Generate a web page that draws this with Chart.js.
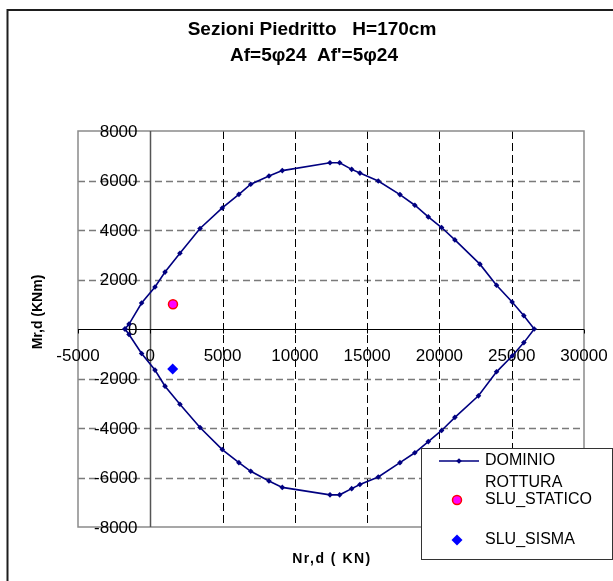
<!DOCTYPE html>
<html><head><meta charset="utf-8">
<script src="https://cdn.jsdelivr.net/npm/chart.js@4/dist/chart.umd.min.js"></script>
<style>html,body{margin:0;padding:0;background:#fff;overflow:hidden}#wrap{position:relative;width:613px;height:581px}canvas{display:block}</style>
</head><body><div id="wrap"><canvas id="c" width="613" height="581"></canvas></div>
<script>
const titleLines = ['Sezioni Piedritto   H=170cm', "Af=5φ24  Af'=5φ24"];
const xTitle = 'Nr,d ( KN)';
const yTitle = 'Mr,d (KNm)';
const seriesNames = ['DOMINIO', ['ROTTURA', 'SLU_STATICO'], 'SLU_SISMA'];

const dominioN = [-1750, -1470, -600, 325, 1020, 2050, 3440, 4980, 6130, 6950, 8210, 9130, 12430, 13100, 13930, 14500, 15770, 17270, 18300, 19230, 20150, 21070, 22800, 23950, 25030, 25840, 26560,
                  25840, 25030, 23950, 22700, 21070, 20150, 19230, 18300, 17270, 15770, 14500, 13930, 13100, 12430, 9130, 8210, 6950, 6130, 4980, 3440, 2050, 1020, 325, -600, -1470, -1750];
const dominioM = [0, 200, 1050, 1700, 2300, 3060, 4060, 4890, 5440, 5850, 6180, 6400, 6720, 6720, 6450, 6300, 5980, 5430, 5000, 4530, 4100, 3600, 2620, 1770, 1090, 540, 0,
                  -550, -1090, -1730, -2700, -3570, -4100, -4550, -5000, -5400, -5980, -6280, -6450, -6700, -6700, -6400, -6140, -5750, -5400, -4870, -3980, -3040, -2310, -1660, -990, -220, 0];
const staticoN = [1570];
const staticoM = [1000];
const sismaN = [1550];
const sismaM = [-1620];

const xTicks = [-5000, 0, 5000, 10000, 15000, 20000, 25000, 30000];
const yTicks = [-8000, -6000, -4000, -2000, 0, 2000, 4000, 6000, 8000];

const toXY = (xs, ys) => xs.map((x, i) => ({x: x, y: ys[i]}));
const FONT = '"Liberation Sans", Arial, Helvetica, sans-serif';

const deco = {
  id: 'deco',
  beforeDraw(chart) {
    const ctx = chart.ctx, a = chart.chartArea, xs = chart.scales.x, ys = chart.scales.y;
    const W = chart.width, H = chart.height;
    ctx.save();
    ctx.fillStyle = '#fff'; ctx.fillRect(0, 0, W, H);
    // outer frame
    ctx.strokeStyle = '#1e1e1e'; ctx.lineWidth = 2;
    ctx.beginPath(); ctx.moveTo(7.5, H + 2); ctx.lineTo(7.5, 10); ctx.lineTo(W + 2, 10); ctx.stroke();
    // horizontal grid
    ctx.lineWidth = 1.5; ctx.strokeStyle = '#7a7a7a'; ctx.setLineDash([7, 4]);
    yTicks.forEach(v => {
      if (v === 0 || v === ys.min || v === ys.max) return;
      const y = Math.round(ys.getPixelForValue(v)) + 0.5;
      ctx.beginPath(); ctx.moveTo(a.left, y); ctx.lineTo(a.right, y); ctx.stroke();
    });
    // vertical grid
    ctx.lineWidth = 1; ctx.strokeStyle = '#000'; ctx.setLineDash([8, 4]);
    xTicks.forEach(v => {
      if (v === 0 || v === xs.min || v === xs.max) return;
      const x = Math.round(xs.getPixelForValue(v)) + 0.5;
      ctx.beginPath(); ctx.moveTo(x, a.top); ctx.lineTo(x, a.bottom); ctx.stroke();
    });
    ctx.setLineDash([]);
    // plot border
    ctx.strokeStyle = '#8a8a8a'; ctx.lineWidth = 1.5;
    ctx.strokeRect(a.left, a.top, a.right - a.left, a.bottom - a.top);
    // axes through zero
    const x0 = Math.round(xs.getPixelForValue(0)) + 0.5;
    const y0 = Math.round(ys.getPixelForValue(0)) + 0.5;
    ctx.strokeStyle = '#555'; ctx.lineWidth = 1.5;
    ctx.beginPath(); ctx.moveTo(x0, a.top); ctx.lineTo(x0, a.bottom); ctx.stroke();
    ctx.strokeStyle = '#000'; ctx.lineWidth = 1;
    ctx.beginPath(); ctx.moveTo(a.left, y0); ctx.lineTo(a.right, y0); ctx.stroke();
    xTicks.forEach(v => {
      const x = Math.round(xs.getPixelForValue(v)) + 0.5;
      ctx.beginPath(); ctx.moveTo(x, y0); ctx.lineTo(x, y0 + 4); ctx.stroke();
    });
    // tick labels
    ctx.fillStyle = '#000';
    ctx.font = '17px ' + FONT;
    ctx.textAlign = 'right'; ctx.textBaseline = 'middle';
    yTicks.forEach(v => ctx.fillText(String(v), x0 - 13, ys.getPixelForValue(v) + 1));
    ctx.textAlign = 'center';
    xTicks.forEach(v => ctx.fillText(String(v), xs.getPixelForValue(v), y0 + 27));
    // axis titles
    ctx.font = 'bold 14px ' + FONT;
    ctx.textAlign = 'center'; ctx.textBaseline = 'middle';
    ctx.save();
    try { ctx.letterSpacing = '1.5px'; } catch (e) {}
    ctx.fillText(xTitle, 332, 559);
    ctx.restore();
    ctx.save(); ctx.translate(38.5, 312); ctx.rotate(-Math.PI / 2);
    ctx.fillText(yTitle, 0, 0); ctx.restore();
    // chart title
    ctx.font = 'bold 19px ' + FONT;
    ctx.textBaseline = 'alphabetic';
    ctx.fillText(titleLines[0], 312, 35);
    ctx.fillText(titleLines[1], 314, 61);
    ctx.restore();
  },
  afterDraw(chart) {
    const ctx = chart.ctx;
    const ds = chart.data.datasets;
    ctx.save();
    // legend box
    const bx = 421.5, by = 448.5, bw = 191, bh = 111;
    ctx.fillStyle = '#fff'; ctx.fillRect(bx, by, bw, bh);
    ctx.strokeStyle = '#333'; ctx.lineWidth = 1; ctx.strokeRect(bx, by, bw, bh);
    const mx = 457;
    // DOMINIO
    ctx.strokeStyle = ds[0].borderColor; ctx.lineWidth = 1.5;
    ctx.beginPath(); ctx.moveTo(439, 461); ctx.lineTo(479, 461); ctx.stroke();
    ctx.fillStyle = ds[0].pointBackgroundColor;
    diamond(ctx, 459, 461, 2.8);
    // STATICO circle
    ctx.beginPath(); ctx.arc(mx, 500, 4.5, 0, Math.PI * 2);
    ctx.fillStyle = ds[1].backgroundColor; ctx.fill();
    ctx.strokeStyle = ds[1].borderColor; ctx.lineWidth = 1.5; ctx.stroke();
    // SISMA diamond
    ctx.fillStyle = ds[2].backgroundColor;
    diamond(ctx, mx, 540, 5.5);
    // texts
    ctx.fillStyle = '#000'; ctx.font = '16px ' + FONT;
    ctx.textAlign = 'left'; ctx.textBaseline = 'middle';
    ctx.fillText(seriesNames[0], 485, 461);
    ctx.fillText(seriesNames[1][0], 485, 483);
    ctx.fillText(seriesNames[1][1], 485, 500);
    ctx.fillText(seriesNames[2], 485, 540);
    ctx.restore();
  }
};
function diamond(ctx, x, y, r) {
  ctx.beginPath(); ctx.moveTo(x, y - r); ctx.lineTo(x + r, y); ctx.lineTo(x, y + r); ctx.lineTo(x - r, y); ctx.closePath(); ctx.fill();
}

new Chart(document.getElementById('c'), {
  type: 'scatter',
  data: {
    datasets: [
      {
        label: seriesNames[0],
        data: toXY(dominioN, dominioM),
        showLine: true,
        borderColor: '#000080',
        backgroundColor: '#000080',
        borderWidth: 1.6,
        tension: 0,
        pointStyle: 'rectRot',
        pointRadius: 2.8,
        pointBackgroundColor: '#000080',
        pointBorderColor: '#000080',
        pointBorderWidth: 0
      },
      {
        label: seriesNames[1].join(' '),
        data: toXY(staticoN, staticoM),
        pointStyle: 'circle',
        pointRadius: 4.5,
        backgroundColor: '#FF00FF',
        borderColor: '#FF0000',
        borderWidth: 1.5
      },
      {
        label: seriesNames[2],
        data: toXY(sismaN, sismaM),
        pointStyle: 'rectRot',
        pointRadius: 5.5,
        backgroundColor: '#0000FF',
        borderColor: '#0000FF',
        borderWidth: 0
      }
    ]
  },
  options: {
    responsive: false,
    animation: false,
    devicePixelRatio: 1,
    layout: {padding: {left: 78, top: 131, right: 29, bottom: 54}},
    plugins: {legend: {display: false}, title: {display: false}, tooltip: {enabled: false}},
    scales: {
      x: {type: 'linear', min: -5000, max: 30000, display: false},
      y: {type: 'linear', min: -8000, max: 8000, display: false}
    }
  },
  plugins: [deco]
});
</script>
</body></html>
